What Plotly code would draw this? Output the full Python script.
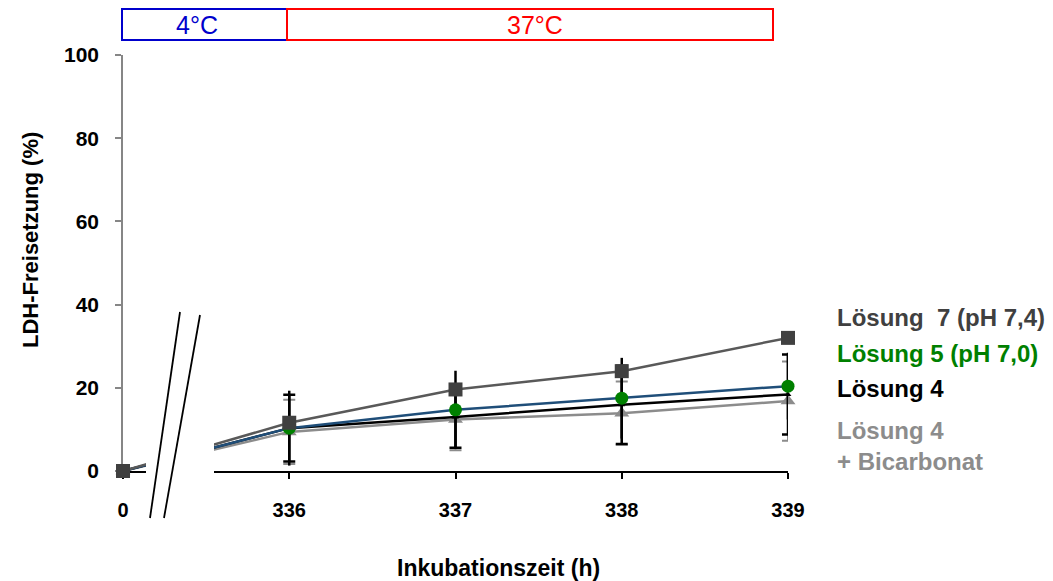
import plotly.graph_objects as go

# Incubation time points (h); equally spaced category axis with a break after 0
zeit = ["0", "336", "337", "338", "339"]

# LDH release (%) per solution
loesung7 = [0.0, 11.6, 19.6, 24.0, 32.0]
loesung5 = [0.0, 10.3, 14.7, 17.5, 20.4]
loesung4 = [0.0, 10.3, 13.0, 15.9, 18.4]
bicarbonat = [0.0, 9.4, 12.4, 13.9, 16.8]

# Standard deviations
sd_loesung5 = [0.0, 9.0, 9.4, 9.7, 8.0]
sd_loesung4 = [0.0, 8.0, 7.4, 9.4, 9.6]
sd_bicarbonat = [0.0, 7.7, 7.4, 7.6, 9.5]

FONT = "Arial, Liberation Sans, sans-serif"

W, H = 1053, 581
L, R, T, B = 123, 265, 55, 110
PW, PH = W - L - R, H - T - B


def px(xp):
    """Horizontal pixel position -> paper coordinate."""
    return (xp - L) / PW


def py(yp):
    """Vertical pixel position -> paper coordinate."""
    return (H - B - yp) / PH


fig = go.Figure()

fig.add_trace(go.Scatter(
    x=zeit, y=bicarbonat, mode="lines+markers", name="Lösung 4 + Bicarbonat",
    line=dict(color="#8c8c8c", width=2.5),
    marker=dict(symbol="triangle-up", size=13, color="#8c8c8c"),
    error_y=dict(type="data", array=sd_bicarbonat, color="#8c8c8c",
                 thickness=2, width=6),
    cliponaxis=False,
))
fig.add_trace(go.Scatter(
    x=zeit, y=loesung4, mode="lines+markers", name="Lösung 4",
    line=dict(color="#000000", width=2.5),
    marker=dict(symbol="triangle-up", size=6, color="#000000"),
    error_y=dict(type="data", array=sd_loesung4, color="#000000",
                 thickness=2.5, width=6),
    cliponaxis=False,
))
fig.add_trace(go.Scatter(
    x=zeit, y=loesung5, mode="lines+markers", name="Lösung 5 (pH 7,0)",
    line=dict(color="#1f4e79", width=2.5),
    marker=dict(symbol="circle", size=13, color="#008000"),
    error_y=dict(type="data", array=sd_loesung5, color="#000000",
                 thickness=2.5, width=0),
    cliponaxis=False,
))
fig.add_trace(go.Scatter(
    x=zeit, y=loesung7, mode="lines+markers", name="Lösung 7 (pH 7,4)",
    line=dict(color="#595959", width=2.5),
    marker=dict(symbol="square", size=14, color="#404040"),
    cliponaxis=False,
))

shapes = [
    # gap of the broken time axis
    dict(type="rect", xref="paper", yref="paper", x0=px(146), x1=px(214),
         y0=py(474), y1=py(300), fillcolor="white", line=dict(width=0), layer="above"),
    dict(type="line", xref="paper", yref="paper", x0=px(150), y0=py(518),
         x1=px(180), y1=py(312), line=dict(color="black", width=1.8), layer="above"),
    dict(type="line", xref="paper", yref="paper", x0=px(164), y0=py(518),
         x1=px(200), y1=py(315), line=dict(color="black", width=1.8), layer="above"),
    # temperature phases
    dict(type="rect", xref="paper", yref="paper", x0=px(122), x1=px(287),
         y0=py(40), y1=py(9), line=dict(color="#0000cc", width=2),
         fillcolor="rgba(0,0,0,0)"),
    dict(type="rect", xref="paper", yref="paper", x0=px(287), x1=px(773),
         y0=py(40), y1=py(9), line=dict(color="#ff0000", width=2),
         fillcolor="rgba(0,0,0,0)"),
]

annotations = [
    dict(x=px(197), y=py(25), text="4°C",
         font=dict(family=FONT, size=25, color="#0000cc")),
    dict(x=px(535), y=py(25), text="37°C",
         font=dict(family=FONT, size=25, color="#ff0000")),
    dict(x=px(498), y=py(568), text="<b>Inkubationszeit (h)</b>",
         font=dict(family=FONT, size=23, color="black")),
    dict(x=px(30), y=py(240), text="<b>LDH-Freisetzung (%)</b>", textangle=-90,
         font=dict(family=FONT, size=22, color="black")),
]

# Series labels at the right
legend_items = [
    ("Lösung&nbsp; 7 (pH 7,4)", "#404040", 317),
    ("Lösung 5 (pH 7,0)", "#008000", 353),
    ("Lösung 4", "#000000", 388),
    ("Lösung 4<br>+ Bicarbonat", "#8c8c8c", 446),
]
for text, color, ypx in legend_items:
    annotations.append(dict(x=px(835), y=py(ypx), text=f"<b>{text}</b>",
                            xanchor="left", align="left",
                            font=dict(family=FONT, size=24, color=color)))

for a in annotations:
    a.update(xref="paper", yref="paper", showarrow=False)
    a.setdefault("xanchor", "center")
    a.setdefault("yanchor", "middle")

fig.update_layout(
    width=W, height=H,
    margin=dict(l=L, r=R, t=T, b=B, pad=0),
    paper_bgcolor="white", plot_bgcolor="white",
    showlegend=False,
    shapes=shapes,
    annotations=annotations,
    font=dict(family=FONT, color="black"),
)
fig.update_xaxes(
    type="category", categoryorder="array", categoryarray=zeit,
    range=[0, 4], showgrid=False, zeroline=False, layer="below traces",
    showline=True, linecolor="black", linewidth=1.5,
    ticks="outside", ticklen=6, tickcolor="black", tickwidth=1.5,
    tickfont=dict(family=FONT, size=20, color="black"),
    tickprefix="<b>", ticksuffix="</b>", ticklabelstandoff=14,
)
fig.update_yaxes(
    range=[0, 100], dtick=20, showgrid=False, zeroline=False, layer="below traces",
    showline=True, linecolor="#868686", linewidth=1.5,
    ticks="outside", ticklen=6, tickcolor="#868686", tickwidth=1.5,
    tickfont=dict(family=FONT, size=21, color="black"),
    tickprefix="<b>", ticksuffix="</b>", ticklabelstandoff=12,
)

fig.write_html("out.html")
